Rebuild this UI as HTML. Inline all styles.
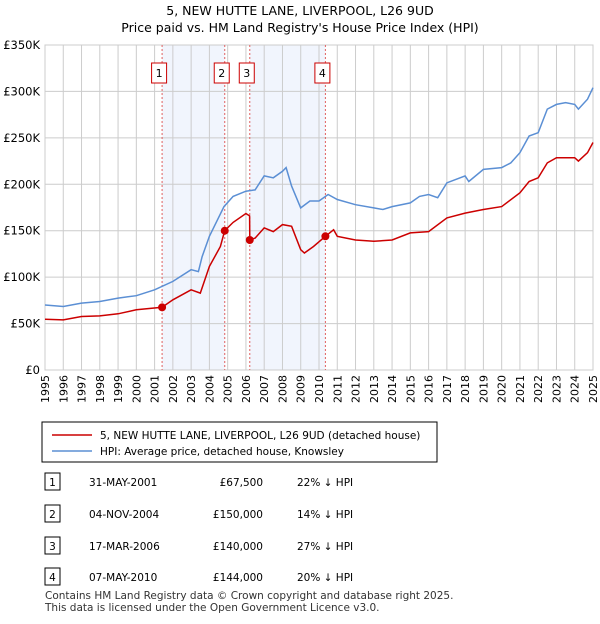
<!DOCTYPE html>
<html><head><meta charset="utf-8"><style>
body{margin:0;background:#fff;font-family:"DejaVu Sans","Liberation Sans",sans-serif;}
svg text{font-family:"DejaVu Sans","Liberation Sans",sans-serif;}
</style></head><body>
<svg id="chart" width="600" height="620" xmlns="http://www.w3.org/2000/svg">
<text x="300" y="15" font-size="12.5" text-anchor="middle" fill="#000">5, NEW HUTTE LANE, LIVERPOOL, L26 9UD</text>
<text x="300" y="32" font-size="12.5" text-anchor="middle" fill="#000">Price paid vs. HM Land Registry's House Price Index (HPI)</text>
<g id="plot"></g>
<g>
<rect x="42" y="422" width="395" height="40" fill="#fff" stroke="#000" stroke-width="1"/>
<line x1="52" y1="435" x2="92" y2="435" stroke="#cc0000" stroke-width="1.5"/>
<text x="100" y="439" font-size="10.5">5, NEW HUTTE LANE, LIVERPOOL, L26 9UD (detached house)</text>
<line x1="52" y1="451" x2="92" y2="451" stroke="#5b8fd4" stroke-width="1.5"/>
<text x="100" y="455" font-size="10.5">HPI: Average price, detached house, Knowsley</text>
</g>
<g id="table"></g>
<text x="45" y="599" font-size="10.5" fill="#333">Contains HM Land Registry data © Crown copyright and database right 2025.</text>
<text x="45" y="611" font-size="10.5" fill="#333">This data is licensed under the Open Government Licence v3.0.</text>
</svg>
<script>
const hpiYears=[1995,1996,1997,1998,1999,2000,2001,2002,2003,2003.4,2003.6,2004,2004.8,2005.3,2006,2006.5,2007,2007.5,2008,2008.2,2008.5,2009,2009.5,2010,2010.5,2011,2012,2013,2013.5,2014,2015,2015.5,2016,2016.5,2017,2018,2018.2,2019,2020,2020.5,2021,2021.5,2022,2022.5,2023,2023.5,2024,2024.2,2024.7,2025];
const hpiValues=[70,68.4,72,73.8,77.4,80,86.4,95.4,108,106,122,144,176,187,192.6,194,209,207,214,218,198,174.6,182,182,189,183.6,178,174.6,172.8,176,180,187,189,185.6,201.6,209,203,216,218,223,234,252,255.6,281,286,288,286,281,291.6,304];
const redYears=[1995,1996,1997,1998,1999,2000,2001.41,2002,2003,2003.5,2004,2004.6,2004.84,2005.3,2006,2006.2,2006.21,2006.5,2007,2007.5,2008,2008.5,2009,2009.2,2009.7,2010.35,2010.8,2011,2012,2013,2014,2015,2016,2017,2018,2019,2020,2021,2021.5,2022,2022.5,2023,2024,2024.2,2024.7,2025];
const redValues=[54.7,54,57.6,58.3,60.5,64.8,67.5,75.6,86.4,82.8,111.6,133,150,159,168.5,166,140,142,153,149,156.6,154.8,129.6,126,133,144,151,144,140,138.6,140,147.6,149,163.8,169,172.8,176,190.8,203,207,223,228.6,228.6,225,234,245];
const saleLabels=["1","2","3","4"];
const saleYears=[2001.41,2004.84,2006.21,2010.35];
const saleValues=[67.5,150,140,144];
const saleDates=["31-MAY-2001","04-NOV-2004","17-MAR-2006","07-MAY-2010"];
const salePrices=["£67,500","£150,000","£140,000","£144,000"];
const saleHpi=["22% ↓ HPI","14% ↓ HPI","27% ↓ HPI","20% ↓ HPI"];
const yTicks=[0,50,100,150,200,250,300,350];
const yTickLabels=["£0","£50K","£100K","£150K","£200K","£250K","£300K","£350K"];
const xTicks=[1995,1996,1997,1998,1999,2000,2001,2002,2003,2004,2005,2006,2007,2008,2009,2010,2011,2012,2013,2014,2015,2016,2017,2018,2019,2020,2021,2022,2023,2024,2025];

const NS="http://www.w3.org/2000/svg";
const L=45,R=593,T=45,B=370;
const X=y=>L+(y-1995)/(2025-1995)*(R-L);
const Y=v=>B-v/350*(B-T);
const plot=document.getElementById('plot');
function mk(tag,attrs,parent){const e=document.createElementNS(NS,tag);for(const k in attrs)e.setAttribute(k,attrs[k]);(parent||plot).appendChild(e);return e;}

for(let i=0;i<4;i+=2){
  const r=mk('rect',{x:X(saleYears[i]),y:T,width:X(saleYears[i+1])-X(saleYears[i]),height:B-T,fill:'#eef3fc',opacity:0.8});
  
  
}
yTicks.forEach((v,i)=>{
  const g=mk('line',{x1:L,x2:R,y1:Y(v),y2:Y(v),stroke:'#cccccc','stroke-width':1});
  
  
  const t=mk('text',{x:40,y:Y(v)+4,'font-size':11.5,'text-anchor':'end',fill:'#000'});
  t.textContent=yTickLabels[i];
  
  
});
xTicks.forEach(yr=>{
  const g=mk('line',{x1:X(yr),x2:X(yr),y1:T,y2:B,stroke:'#cccccc','stroke-width':1});
  
  
  const tx=X(yr)+4, ty=375;
  const grp=mk('g',{transform:'translate('+tx.toFixed(1)+' '+ty+') rotate(-90)'});
  const t=mk('text',{x:0,y:0,'font-size':11,'text-anchor':'end',fill:'#000'},grp);
  t.textContent=String(yr);
  
  
});
const fr=mk('rect',{x:L,y:T,width:R-L,height:B-T,fill:'none',stroke:'#cccccc'});


saleYears.forEach((yr,i)=>{
  const l=mk('line',{x1:X(yr),x2:X(yr),y1:T,y2:B,stroke:'#e06060','stroke-width':1,'stroke-dasharray':'2,2'});
  
  
  const b=mk('rect',{x:X(yr)-10.5,y:63,width:15,height:20,fill:'#fff',stroke:'#cc0000'});
  
  
  const t=mk('text',{x:X(yr)-3,y:77,'font-size':11,'text-anchor':'middle'});
  t.textContent=saleLabels[i];
  
  
});
function pts(xs,vs){return xs.map((x,i)=>X(x).toFixed(1)+','+Y(vs[i]).toFixed(1)).join(' ');}
const hl=mk('polyline',{points:pts(hpiYears,hpiValues),fill:'none',stroke:'#5b8fd4','stroke-width':1.5});


const rl=mk('polyline',{points:pts(redYears,redValues),fill:'none',stroke:'#cc0000','stroke-width':1.5});


saleYears.forEach((yr,i)=>{
  const c=mk('circle',{cx:X(yr),cy:Y(saleValues[i]),r:4,fill:'#cc0000'});
  
  
});
const tb=document.getElementById('table');
const rowY=[482,514,546,577];
saleLabels.forEach((lab,i)=>{
  const y=rowY[i];
  const b=mk('rect',{x:45,y:y-9,width:15,height:17,fill:'#fff',stroke:'#000'},tb);
  
  
  const t=mk('text',{x:52.5,y:y+4,'font-size':10.5,'text-anchor':'middle'},tb);
  t.textContent=lab;
  
  
  const d=mk('text',{x:89,y:y+4,'font-size':10.5},tb);
  d.textContent=saleDates[i];
  
  
  const p=mk('text',{x:263,y:y+4,'font-size':10.5,'text-anchor':'end'},tb);
  p.textContent=salePrices[i];
  
  
  const h=mk('text',{x:297,y:y+4,'font-size':10.5},tb);
  h.textContent=saleHpi[i];
  
  
});
</script>
</body></html>
